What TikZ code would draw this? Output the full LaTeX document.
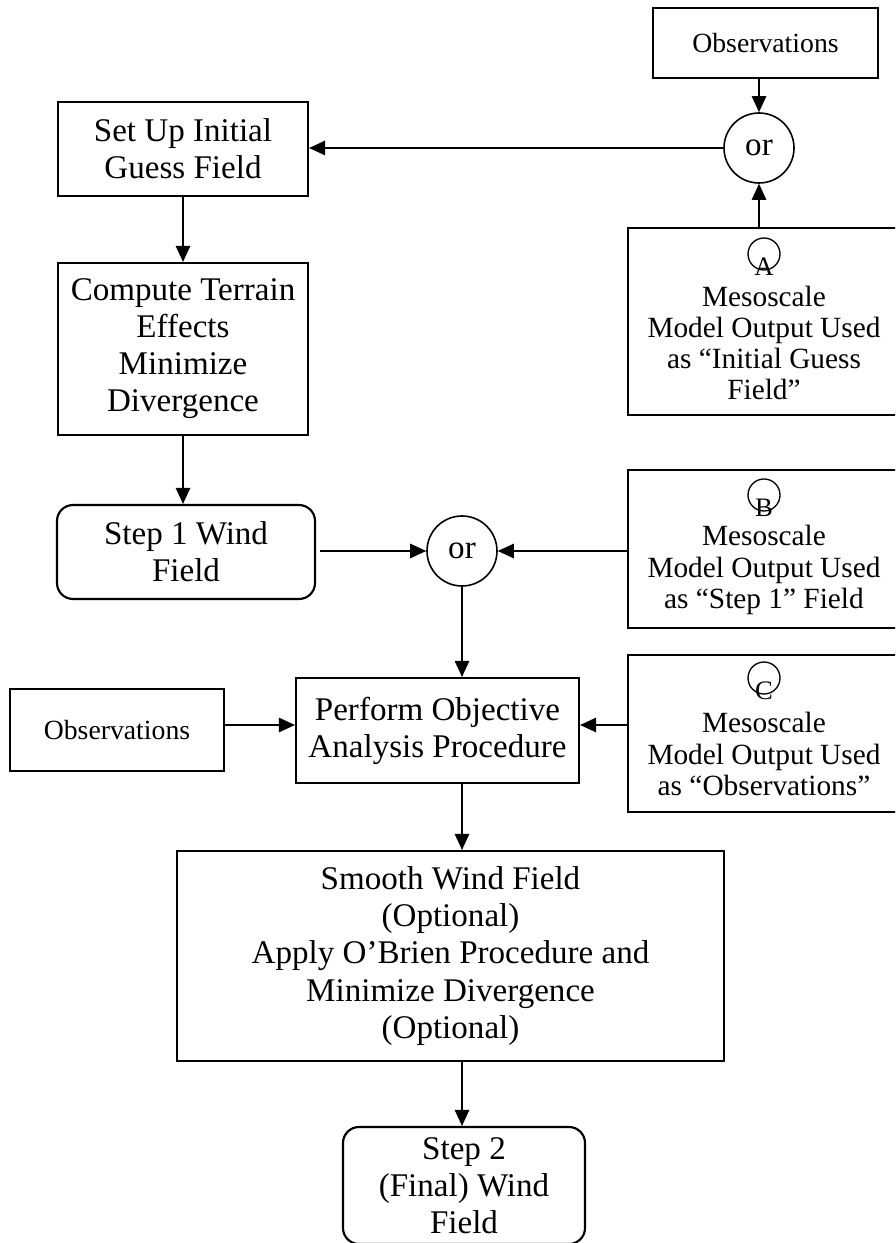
\documentclass[tikz,border=0pt]{standalone}
\usepackage{fontspec}
\setmainfont{Liberation Serif}
\usetikzlibrary{arrows.meta}
% one drawing unit = one pixel of the layout grid
\def\pxs{0.375pt}
\begin{document}
\begin{tikzpicture}[
  x=0.375pt, y=-0.375pt,
  box/.style={draw, line width=0.8pt, inner sep=0pt, align=center,
    font=\fontsize{12.4pt}{13.9pt}\selectfont},
  roundbox/.style={box, rounded corners=6pt},
  sidebox/.style={draw, line width=0.8pt, inner sep=0pt},
  sidetext/.style={inner sep=0pt, align=center,
    font=\fontsize{11pt}{11.7pt}\selectfont},
  orcirc/.style={draw, circle, line width=0.6pt, inner sep=0pt,
    minimum size=70*\pxs, font=\fontsize{12.4pt}{13.9pt}\selectfont},
  tag/.style={draw, circle, line width=0.5pt, inner sep=0pt,
    minimum size=32*\pxs},
  tagletter/.style={inner sep=0pt, font=\fontsize{10pt}{11pt}\selectfont},
  arr/.style={-{Triangle[length=6pt,width=5.4pt]}, line width=0.55pt},
]
\useasboundingbox (0,0) rectangle (895,1243);
\clip (0,0) rectangle (895,1243);

% main column
\node[box, minimum width=250*\pxs, minimum height=94*\pxs] (setup) at (183,149)
  {Set Up Initial\\Guess Field};
\node[box, minimum width=250*\pxs, minimum height=172*\pxs] (compute) at (183,349)
  {Compute Terrain\\Effects\\Minimize\\Divergence};
\node[roundbox, minimum width=258*\pxs, minimum height=94*\pxs] (step1) at (186,552)
  {Step 1 Wind\\Field};
\node[orcirc] (or2) at (462,551) {or};
\node[box, minimum width=214*\pxs, minimum height=82*\pxs,
  font=\fontsize{10.4pt}{12pt}\selectfont] (obsL) at (117,730) {Observations};
\node[box, minimum width=283*\pxs, minimum height=105*\pxs] (perform) at (437.5,730.5)
  {Perform Objective\\Analysis Procedure};
\node[box, minimum width=547*\pxs, minimum height=210*\pxs] (smooth) at (450.5,956)
  {Smooth Wind Field\\(Optional)\\Apply O’Brien Procedure and\\Minimize Divergence\\(Optional)};
\node[roundbox, minimum width=242*\pxs, minimum height=117*\pxs] (step2) at (464,1185.5)
  {Step 2\\(Final) Wind\\Field};

% right column
\node[box, minimum width=225*\pxs, minimum height=70*\pxs,
  font=\fontsize{10.4pt}{12pt}\selectfont] (obsT) at (765.5,43) {Observations};
\node[orcirc] (or1) at (759,148) {or};

\node[sidebox, minimum width=272*\pxs, minimum height=187*\pxs] (boxA) at (764,321.5) {};
\node[tag] (tagA) at (764,254) {};
\node[tagletter] (letA) at (764,267) {A};
\node[sidetext] (txtA) at (764,343) {Mesoscale\\Model Output Used\\as “Initial Guess\\Field”};

\node[sidebox, minimum width=272*\pxs, minimum height=158*\pxs] (boxB) at (764,549) {};
\node[tag] (tagB) at (764,495) {};
\node[tagletter] (letB) at (764,508) {B};
\node[sidetext] (txtB) at (764,570) {Mesoscale\\Model Output Used\\as “Step 1” Field};

\node[sidebox, minimum width=272*\pxs, minimum height=157*\pxs] (boxC) at (764,733.5) {};
\node[tag] (tagC) at (764,678) {};
\node[tagletter] (letC) at (764,691) {C};
\node[sidetext] (txtC) at (764,754) {Mesoscale\\Model Output Used\\as “Observations”};

% connectors
\draw[arr] (obsT.south -| or1) -- (or1.north);
\draw[arr] (boxA.north -| or1) -- (or1.south);
\draw[arr] (or1.west) -- (setup.east |- or1);
\draw[arr] (setup) -- (compute);
\draw[arr] (compute.south) -- (compute.south |- step1.north);
\draw[arr, shorten <=1.5pt] (step1.east |- or2) -- (or2.west);
\draw[arr] (boxB.west |- or2) -- (or2.east);
\draw[arr] (or2.south) -- (or2.south |- perform.north);
\draw[arr] (obsL.east |- 0,725) -- (perform.west |- 0,725);
\draw[arr] (boxC.west |- 0,725) -- (perform.east |- 0,725);
\draw[arr] (perform.south -| or2) -- (smooth.north -| or2);
\draw[arr] (smooth.south -| or2) -- (step2.north -| or2);
\end{tikzpicture}
\end{document}
